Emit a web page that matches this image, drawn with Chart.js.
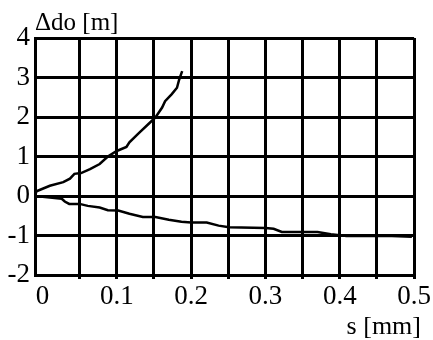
<!DOCTYPE html>
<html>
<head>
<meta charset="utf-8">
<script src="https://cdn.jsdelivr.net/npm/chart.js@4"></script>
<style>
  html, body { margin: 0; padding: 0; background: #fff; }
  #wrap { width: 433px; height: 340px; }
</style>
</head>
<body>
<div id="wrap"><canvas id="chart"></canvas></div>
<script>
// upper curve (rising)
const upperS = [-0.01, -0.008, 0.01, 0.028, 0.037, 0.043, 0.052, 0.064, 0.077, 0.088, 0.1, 0.113, 0.117, 0.13, 0.143, 0.152, 0.161, 0.165, 0.174, 0.181, 0.184, 0.188];
const upperD = [0, 0.12, 0.26, 0.35, 0.44, 0.56, 0.58, 0.68, 0.81, 1.0, 1.14, 1.24, 1.36, 1.6, 1.83, 1.99, 2.24, 2.4, 2.58, 2.74, 2.95, 3.16];

// lower curve (falling)
const lowerS = [-0.01, 0.01, 0.026, 0.03, 0.036, 0.05, 0.061, 0.077, 0.088, 0.102, 0.117, 0.135, 0.152, 0.17, 0.187, 0.2, 0.221, 0.237, 0.251, 0.3, 0.311, 0.322, 0.357, 0.37, 0.388, 0.409, 0.43, 0.47, 0.497];
const lowerD = [0, -0.04, -0.07, -0.14, -0.2, -0.2, -0.25, -0.29, -0.36, -0.37, -0.45, -0.53, -0.53, -0.6, -0.65, -0.67, -0.67, -0.75, -0.79, -0.81, -0.83, -0.91, -0.91, -0.91, -0.97, -1.01, -1.01, -1.01, -1.03];

const xGrid = [0, 0.05, 0.1, 0.15, 0.2, 0.25, 0.3, 0.35, 0.4, 0.45, 0.5];
const xLabels = ["0", "", "0.1", "", "0.2", "", "0.3", "", "0.4", "", "0.5"];
const yTicks = [-2, -1, 0, 1, 2, 3, 4];

const yTitle = "Δdo [m]";
const xTitle = "s [mm]";

const serif = "'Liberation Serif', 'Times New Roman', serif";

function toPoints(xs, ys) {
    return xs.map((x, i) => ({ x: x, y: ys[i] }));
}

// axis titles drawn as text on the canvas
const axisTitles = {
    id: "axisTitles",
    afterDraw(chart) {
        const ctx = chart.ctx;
        ctx.save();
        ctx.fillStyle = "#000";
        ctx.textBaseline = "alphabetic";
        ctx.font = "25px " + serif;
        ctx.textAlign = "left";
        ctx.fillText(yTitle, 35, 30);
        ctx.font = "26px " + serif;
        ctx.textAlign = "right";
        ctx.fillText(xTitle, 421, 334);
        ctx.restore();
    },
};

new Chart(document.getElementById("chart").getContext("2d"), {
    type: "scatter",
    data: {
        datasets: [
            {
                data: toPoints(upperS, upperD),
                showLine: true,
                borderColor: "#000",
                borderWidth: 2.5,
                pointRadius: 0,
                tension: 0,
            },
            {
                data: toPoints(lowerS, lowerD),
                showLine: true,
                borderColor: "#000",
                borderWidth: 2.5,
                pointRadius: 0,
                tension: 0,
            },
        ],
    },
    options: {
        responsive: true,
        maintainAspectRatio: false,
        animation: false,
        layout: { padding: { top: 38, right: 18, left: 0, bottom: 0 } },
        plugins: { legend: { display: false }, tooltip: { enabled: false } },
        scales: {
            x: {
                type: "linear",
                min: -0.01,
                max: 0.5,
                afterBuildTicks: (scale) => {
                    scale.ticks = xGrid.map((v) => ({ value: v }));
                },
                afterFit: (scale) => { scale.height = 65; },
                ticks: {
                    color: "#000",
                    font: { family: serif, size: 27 },
                    padding: 2,
                    maxRotation: 0,
                    autoSkip: false,
                    callback: (v, i) => xLabels[i],
                },
                grid: {
                    color: (ctx) => (ctx.tick && ctx.tick.value === 0 ? "rgba(0,0,0,0)" : "#000"),
                    lineWidth: 3,
                    tickLength: 4,
                },
                border: { color: "#000", width: 3 },
            },
            y: {
                type: "linear",
                min: -2,
                max: 4,
                afterBuildTicks: (scale) => {
                    scale.ticks = yTicks.map((v) => ({ value: v }));
                },
                afterFit: (scale) => { scale.width = 35; },
                ticks: {
                    color: "#000",
                    font: { family: serif, size: 27 },
                    padding: 5,
                    callback: (v) => String(v),
                },
                grid: { color: "#000", lineWidth: 3, drawTicks: false },
                border: { color: "#000", width: 3 },
            },
        },
    },
    plugins: [axisTitles],
});
</script>
</body>
</html>
